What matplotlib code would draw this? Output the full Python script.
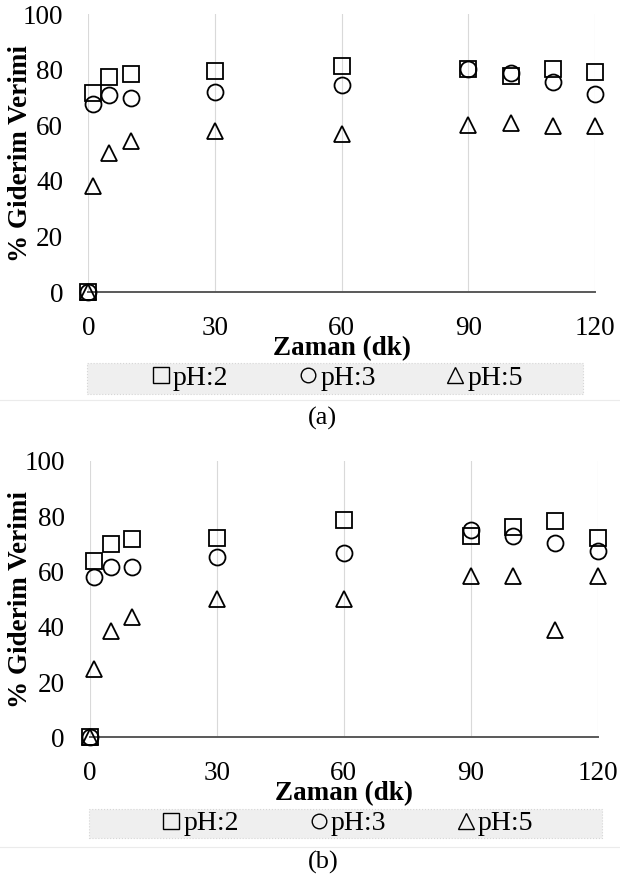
import matplotlib
matplotlib.use("Agg")
import matplotlib.pyplot as plt
import matplotlib.patches as patches
from matplotlib.lines import Line2D

plt.rcParams["font.family"] = ["Liberation Serif", "DejaVu Serif"]

# time points (dk)
time = [0, 1, 5, 10, 30, 60, 90, 100, 110, 120]

# panel (a)
a_ph2 = [0, 71.5, 77.5, 78.6, 79.6, 81.3, 80.2, 77.7, 80.4, 79.3]
a_ph3 = [0, 67.5, 70.9, 69.9, 71.8, 74.5, 80.2, 78.8, 75.6, 71.3]
a_ph5 = [0, 38.2, 50.0, 54.2, 58.0, 56.8, 60.2, 60.8, 59.6, 59.7]

# panel (b)
b_ph2 = [0, 63.7, 70.0, 71.7, 72.1, 78.6, 72.7, 76.1, 78.4, 72.2]
b_ph3 = [0, 58.1, 61.8, 61.5, 65.2, 66.7, 75.0, 72.7, 70.5, 67.3]
b_ph5 = [0, 24.9, 38.6, 43.6, 50.0, 50.0, 58.2, 58.4, 38.8, 58.2]

labels = ["pH:2", "pH:3", "pH:5"]
markers = ["s", "o", "^"]
legend_ms = [12, 10.5, 11]
xticks = [0, 30, 60, 90, 120]
yticks = [0, 20, 40, 60, 80, 100]

W, H = 620, 882


def fx(px):
    return px / W


def fy(py):
    return 1 - py / H


def draw_panel(ax, series):
    for vals, m in zip(series, markers):
        ax.plot(time, vals, ls="none", marker=m, mfc="none", mec="black",
                ms=11.5, mew=1.3, clip_on=False, zorder=3)

    ax.set_xlim(0, 120)
    ax.set_ylim(0, 100)
    ax.set_xticks(xticks)
    ax.set_yticks(yticks)
    ax.tick_params(axis="both", length=0, labelsize=19.5)
    ax.tick_params(axis="x", pad=17)
    ax.tick_params(axis="y", pad=18)

    for s in ["top", "right", "left"]:
        ax.spines[s].set_visible(False)
    ax.spines["bottom"].set_color("#595959")
    ax.spines["bottom"].set_linewidth(1.4)

    ax.grid(axis="x", color="#d9d9d9", lw=0.8)
    ax.set_axisbelow(True)

    ax.set_xlabel("Zaman (dk)", fontsize=19.5, fontweight="bold", va="center")
    ax.set_ylabel("% Giderim Verimi", fontsize=19.5, fontweight="bold", va="center")


def draw_legend(fig, box):
    x0, y0, x1, y1 = box
    fig.add_artist(patches.Rectangle(
        (fx(x0), fy(y1)), fx(x1 - x0), (y1 - y0) / H, transform=fig.transFigure,
        facecolor="#efefef", edgecolor="#d6d6d6", lw=0.8, ls=":", zorder=0
    ))
    handles = [Line2D([], [], ls="none", marker=m, mfc="none", mec="black",
                      ms=s, mew=1.0) for m, s in zip(markers, legend_ms)]
    fig.legend(handles, labels, loc="center",
               bbox_to_anchor=(fx((x0 + x1) / 2 + 3), fy((y0 + y1) / 2)),
               ncol=3, frameon=False, fontsize=20, handlelength=0.55,
               handletextpad=0.15, columnspacing=2.6, borderpad=0, borderaxespad=0)


fig = plt.figure(figsize=(W / 100, H / 100), dpi=100)

ax_a = fig.add_axes([fx(88.3), fy(292.3), fx(595 - 88.3), (292.3 - 14) / H])
draw_panel(ax_a, [a_ph2, a_ph3, a_ph5])
ax_a.xaxis.set_label_coords(0.5, -(349 - 292.3) / 278.3)
ax_a.yaxis.set_label_coords((21 - 88.3) / 506.7, 0.5)
draw_legend(fig, (87.3, 362.7, 583, 394))
fig.text(fx(322), fy(418), "(a)", fontsize=19, ha="center", va="center")
fig.add_artist(Line2D([0, 1], [fy(400), fy(400)], transform=fig.transFigure,
                      color="#ebebeb", lw=0.8))

ax_b = fig.add_axes([fx(90), fy(737.3), fx(597.7 - 90), (737.3 - 461) / H])
draw_panel(ax_b, [b_ph2, b_ph3, b_ph5])
ax_b.xaxis.set_label_coords(0.5, -(794 - 737.3) / 276.3)
ax_b.yaxis.set_label_coords((21 - 90) / 507.7, 0.5)
draw_legend(fig, (89, 809, 601.7, 838.3))
fig.text(fx(323), fy(862), "(b)", fontsize=19, ha="center", va="center")
fig.add_artist(Line2D([0, 1], [fy(846.7), fy(846.7)], transform=fig.transFigure,
                      color="#ebebeb", lw=0.8))

fig.savefig("out.png", dpi=100)
